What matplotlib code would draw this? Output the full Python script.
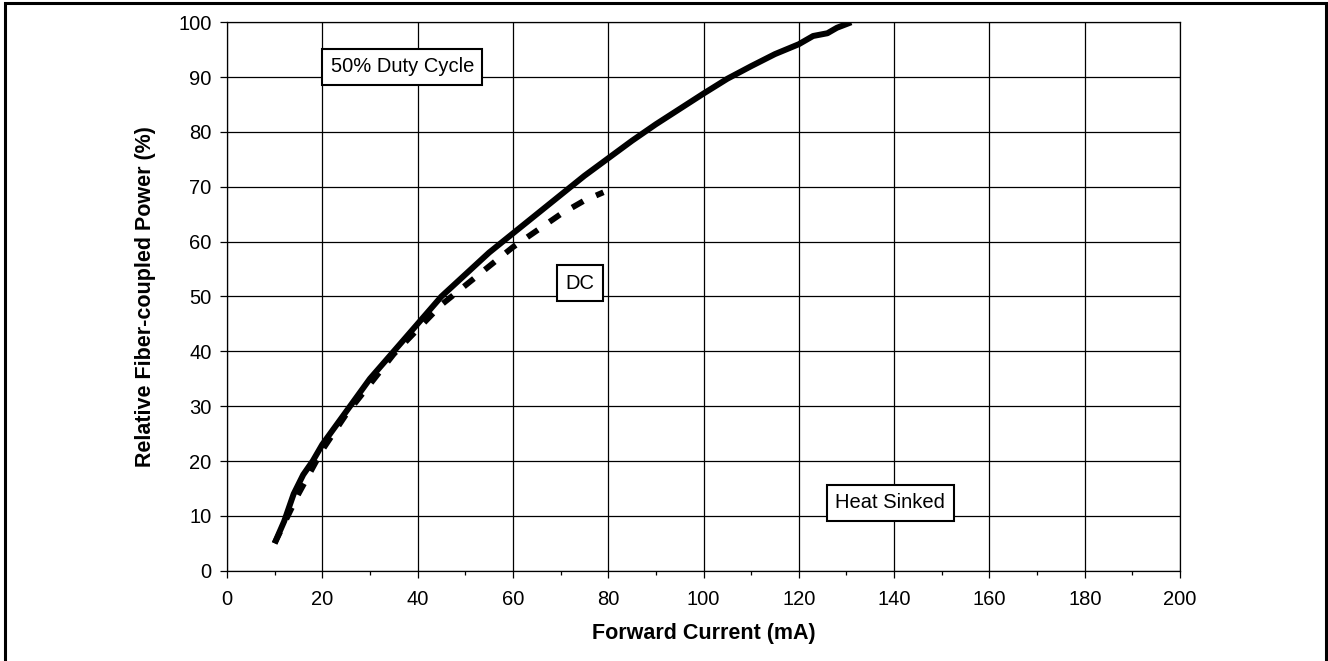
import matplotlib
matplotlib.use("Agg")
import matplotlib.pyplot as plt
from matplotlib.patches import Rectangle
from matplotlib.ticker import MultipleLocator

plt.rcParams['font.family'] = ['Liberation Sans', 'DejaVu Sans']

# 50% duty cycle curve
pulsed_current = [10, 12, 14, 16, 18, 20, 25, 30, 35, 40, 45, 50, 55, 60, 65, 70,
                  75, 80, 85, 90, 95, 100, 105, 110, 115, 120, 123, 126, 128, 131]
pulsed_power = [5, 9, 14, 17.5, 20, 23, 29, 35, 40, 45, 50, 54, 58, 61.5, 65, 68.5,
                72, 75.2, 78.4, 81.4, 84.2, 87, 89.7, 92, 94.2, 96, 97.5, 98, 99, 100]

# DC curve
dc_current = [10, 15, 20, 25, 30, 35, 40, 45, 50, 55, 60, 65, 70, 75, 79]
dc_power = [5, 14, 22, 28.5, 34, 39.5, 44, 48.5, 52, 55.5, 59, 62, 65, 67.5, 69]

x_ticks = list(range(0, 201, 20))
y_ticks = list(range(0, 101, 10))

FS = 14.5

fig = plt.figure(figsize=(13.28, 6.61), dpi=100)
ax = fig.add_axes([0.1709, 0.1366, 0.7177, 0.8297])

ax.plot(dc_current, dc_power, color='black', lw=4.2, dashes=(2.2, 2.4),
        dash_capstyle='butt', solid_capstyle='butt', zorder=3)
ax.plot(pulsed_current, pulsed_power, color='black', lw=4.3,
        solid_capstyle='butt', solid_joinstyle='round', zorder=4)

ax.set_xlim(0, 200)
ax.set_ylim(0, 100)
ax.set_xticks(x_ticks)
ax.set_yticks(y_ticks)
ax.xaxis.set_minor_locator(MultipleLocator(10))
ax.grid(True, which='major', color='black', lw=0.9)
ax.set_axisbelow(True)

ax.tick_params(axis='both', which='major', direction='out', length=5, width=0.9,
               labelsize=FS, colors='black')
ax.tick_params(axis='x', which='minor', direction='out', length=3, width=0.9)
ax.tick_params(axis='x', pad=9)
ax.tick_params(axis='y', pad=6)

for s in ax.spines.values():
    s.set_color('black')
    s.set_linewidth(0.9)

ax.set_xlabel('Forward Current (mA)', fontsize=15.5, fontweight='bold', labelpad=10)
ax.set_ylabel('Relative Fiber-coupled Power (%)', fontsize=15.5, fontweight='bold',
              labelpad=16)

box = dict(boxstyle='square,pad=0.42', facecolor='white', edgecolor='black', lw=1.5)
ax.text(36.8, 91.9, '50% Duty Cycle', fontsize=FS, ha='center', va='center',
        bbox=box, zorder=5)
ax.text(74.0, 52.4, 'DC', fontsize=FS, ha='center', va='center', bbox=box, zorder=5)
ax.text(139.2, 12.4, 'Heat Sinked', fontsize=FS, ha='center', va='center',
        bbox=box, zorder=5)

# outer frame around the figure
fig.add_artist(Rectangle((5 / 1328, -0.02), 1321 / 1328, 1 - 3 / 661 + 0.02,
                         transform=fig.transFigure, fill=False, edgecolor='black',
                         lw=2.2, clip_on=False))

fig.savefig('out.png', dpi=100)
